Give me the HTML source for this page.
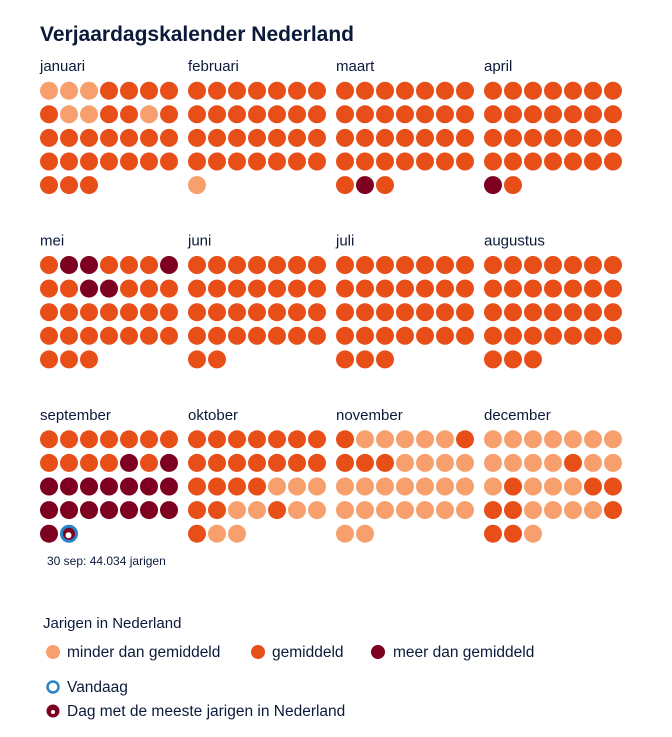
<!DOCTYPE html>
<html><head><meta charset="utf-8"><style>
body{margin:0;background:#fff;}
svg text{font-family:"Liberation Sans",sans-serif;fill:#0b1a3a;}
</style></head><body>
<svg id="s" width="672" height="732" xmlns="http://www.w3.org/2000/svg">
<text x="40" y="41" font-size="21" font-weight="bold">Verjaardagskalender Nederland</text>
<text x="47" y="565" font-size="12">30 sep: 44.034 jarigen</text>
<text x="43" y="628" font-size="15">Jarigen in Nederland</text>
<circle cx="53" cy="652" r="7" fill="#F7A06E"/>
<text x="67" y="657" font-size="15.5">minder dan gemiddeld</text>
<circle cx="258" cy="652" r="7" fill="#E84E18"/>
<text x="272" y="657" font-size="15.5">gemiddeld</text>
<circle cx="378" cy="652" r="7" fill="#7E0021"/>
<text x="393" y="657" font-size="15.5">meer dan gemiddeld</text>
<circle cx="53" cy="687" r="5.5" fill="none" stroke="#2a83c6" stroke-width="2.5"/>
<text x="67" y="692" font-size="15.5">Vandaag</text>
<circle cx="53" cy="711" r="6.5" fill="#7E0021"/>
<circle cx="53" cy="712" r="2" fill="#fff"/>
<text x="67" y="716" font-size="15.5">Dag met de meeste jarigen in Nederland</text>
</svg>
<script>
var C={L:"#F7A06E",M:"#E84E18",D:"#7E0021"};
var rep=function(c,n){return Array(n+1).join(c);};
var months=[
["januari","LLLMMMM"+"MLLMMLM"+rep("M",17)],
["februari",rep("M",28)+"L"],
["maart",rep("M",29)+"DM"],
["april",rep("M",28)+"DM"],
["mei","MDDMMMD"+"MMDDMMM"+rep("M",17)],
["juni",rep("M",30)],
["juli",rep("M",31)],
["augustus",rep("M",31)],
["september","MMMMMMM"+"MMMMDMD"+rep("D",14)+"DT"],
["oktober",rep("M",14)+"MMMMLLL"+"MMLLMLL"+"MLL"],
["november","MLLLLLM"+"MMMLLLL"+rep("L",16)],
["december",rep("L",7)+"LLLLMLL"+"LMLLLMM"+"MMLLLLM"+"MML"]
];
var s=document.getElementById("s"),h="";
months.forEach(function(m,i){
 var col=i%4,row=Math.floor(i/4);
 var x0=49+col*148,y0=90.7+row*174.3;
 h+='<text x="'+(x0-9)+'" y="'+(y0-19.5)+'" font-size="15">'+m[0]+'</text>';
 for(var d=0;d<m[1].length;d++){
  var c=m[1][d],cx=x0+(d%7)*20,cy=y0+Math.floor(d/7)*23.6;
  if(c=="T"){
   h+='<circle cx="'+cx+'" cy="'+cy+'" r="7.5" fill="#7E0021" stroke="#2a83c6" stroke-width="3"/>';
   h+='<circle cx="'+(cx-0.5)+'" cy="'+(cy+1.5)+'" r="3" fill="#fff"/>';
  } else h+='<circle cx="'+cx+'" cy="'+cy+'" r="9" fill="'+C[c]+'"/>';
 }
});
s.insertAdjacentHTML("beforeend",h);
</script>
</body></html>
